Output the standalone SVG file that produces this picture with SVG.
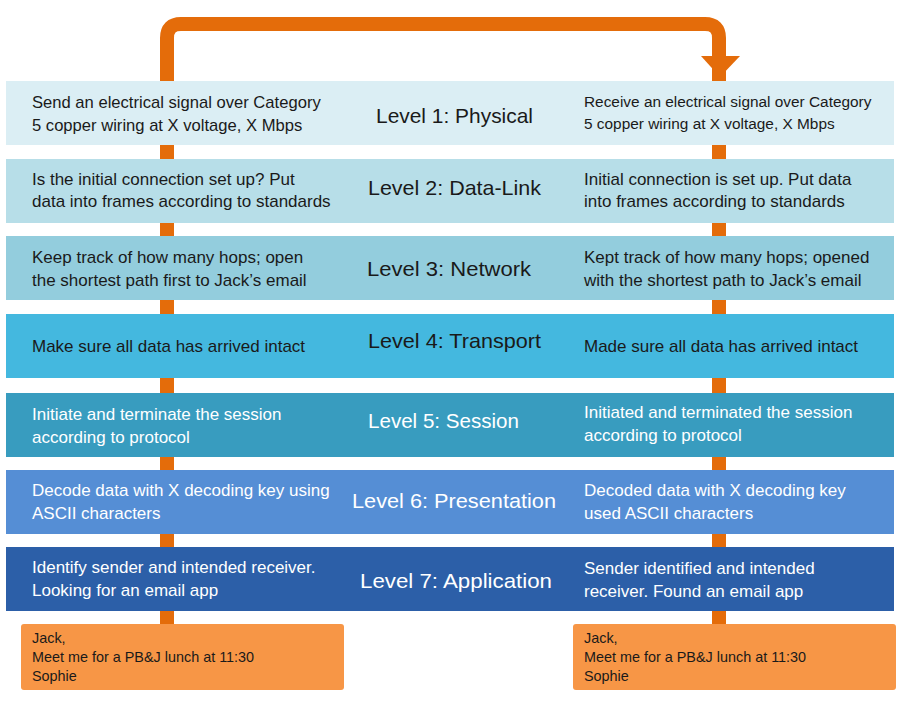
<svg xmlns="http://www.w3.org/2000/svg" width="900" height="702" viewBox="0 0 900 702">
<style>
.t{font-family:"Liberation Sans",Arial,sans-serif;font-size:17px;fill:#1a1a1a}
.lb{font-family:"Liberation Sans",Arial,sans-serif;font-size:21px;fill:#1a1a1a}
.s{font-family:"Liberation Sans",Arial,sans-serif;font-size:14.4px;fill:#1a1a1a}
text.w{fill:#ffffff}
.bar{fill:none;stroke:#E46C0A;stroke-width:14}
.box{fill:#F79646}
</style>
<rect width="900" height="702" fill="#ffffff"/>
<g id="connectors">
<path class="bar" d="M167,624 V38 Q167,24 181,24 H705 Q719,24 719,38 V624"/>
<polygon points="701,56 740,56 720,77" fill="#E46C0A"/>
</g>
<g id="level1">
<rect x="6" y="81" width="888" height="64" fill="#DBEEF4"/>
<text class="t" x="32" y="108" style="font-size:16.6px">Send an electrical signal over Category</text>
<text class="t" x="32" y="131" style="font-size:16.6px">5 copper wiring at X voltage, X Mbps</text>
<text class="lb" x="376" y="123" textLength="157" lengthAdjust="spacingAndGlyphs">Level 1: Physical</text>
<text class="t" x="584" y="107" style="font-size:15.4px">Receive an electrical  signal over Category</text>
<text class="t" x="584" y="129" style="font-size:15.4px">5 copper wiring at X voltage, X Mbps</text>
</g>
<g id="level2">
<rect x="6" y="159" width="888" height="64" fill="#B7DEE8"/>
<text class="t" x="32" y="185">Is the initial connection set up? Put</text>
<text class="t" x="32" y="207">data into frames according to standards</text>
<text class="lb" x="368" y="195" textLength="173" lengthAdjust="spacingAndGlyphs">Level 2: Data-Link</text>
<text class="t" x="584" y="185">Initial connection is set up. Put data</text>
<text class="t" x="584" y="207">into frames according to standards</text>
</g>
<g id="level3">
<rect x="6" y="236" width="888" height="64" fill="#93CDDD"/>
<text class="t" x="32" y="263">Keep track of how many hops; open</text>
<text class="t" x="32" y="286">the shortest path first to Jack’s email</text>
<text class="lb" x="367" y="276" textLength="164" lengthAdjust="spacingAndGlyphs">Level 3: Network</text>
<text class="t" x="584" y="263">Kept track of how many hops; opened</text>
<text class="t" x="584" y="286">with the shortest path to Jack’s email</text>
</g>
<g id="level4">
<rect x="6" y="314" width="888" height="64" fill="#44B8DF"/>
<text class="t" x="32" y="352">Make sure all data has arrived intact</text>
<text class="lb" x="368" y="348" textLength="173" lengthAdjust="spacingAndGlyphs">Level 4: Transport</text>
<text class="t" x="584" y="352">Made sure all data has arrived intact</text>
</g>
<g id="level5">
<rect x="6" y="393" width="888" height="64" fill="#389CBF"/>
<text class="t w" x="32" y="420">Initiate and terminate the session</text>
<text class="t w" x="32" y="443">according to protocol</text>
<text class="lb w" x="368" y="428" textLength="151" lengthAdjust="spacingAndGlyphs">Level 5: Session</text>
<text class="t w" x="584" y="418">Initiated and terminated the session</text>
<text class="t w" x="584" y="441">according to protocol</text>
</g>
<g id="level6">
<rect x="6" y="470" width="888" height="64" fill="#558ED5"/>
<text class="t w" x="32" y="496">Decode data with X decoding key using</text>
<text class="t w" x="32" y="519">ASCII characters</text>
<text class="lb w" x="352" y="508" textLength="204" lengthAdjust="spacingAndGlyphs">Level 6: Presentation</text>
<text class="t w" x="584" y="496">Decoded data with X decoding key</text>
<text class="t w" x="584" y="519">used ASCII characters</text>
</g>
<g id="level7">
<rect x="6" y="547" width="888" height="64" fill="#2C5FA8"/>
<text class="t w" x="32" y="573">Identify sender and intended receiver.</text>
<text class="t w" x="32" y="596">Looking for an email app</text>
<text class="lb w" x="360" y="588" textLength="192" lengthAdjust="spacingAndGlyphs">Level 7: Application</text>
<text class="t w" x="584" y="574">Sender identified  and intended</text>
<text class="t w" x="584" y="597">receiver. Found an email app</text>
</g>
<g id="message-sender">
<rect class="box" x="21" y="624" width="323" height="66" rx="3"/>
<text class="s" x="32" y="643">Jack,</text>
<text class="s" x="32" y="662">Meet me for a PB&amp;J lunch at 11:30</text>
<text class="s" x="32" y="681">Sophie</text>
</g>
<g id="message-receiver">
<rect class="box" x="573" y="624" width="323" height="66" rx="3"/>
<text class="s" x="584" y="643">Jack,</text>
<text class="s" x="584" y="662">Meet me for a PB&amp;J lunch at 11:30</text>
<text class="s" x="584" y="681">Sophie</text>
</g>
</svg>
